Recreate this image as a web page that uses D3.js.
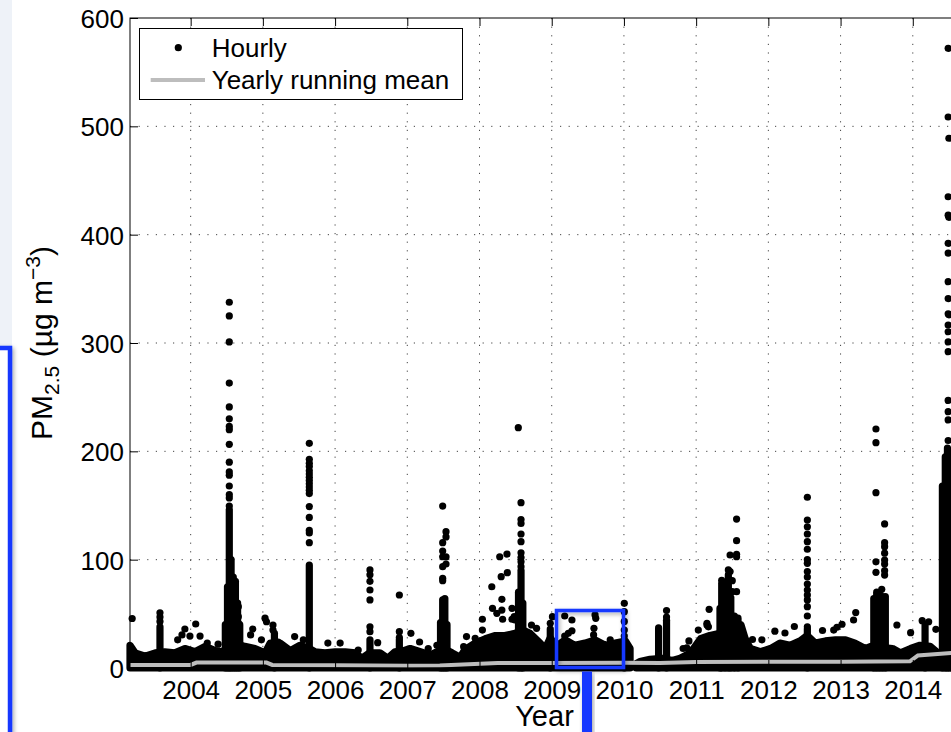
<!DOCTYPE html>
<html>
<head>
<meta charset="utf-8">
<script src="https://cdn.jsdelivr.net/npm/d3@7"></script>
<style>
  body { margin: 0; background: #fff; overflow: hidden; }
  svg { display: block; font-family: "Liberation Sans", Arial, Helvetica, sans-serif; }
  .grid line { stroke: #444; stroke-width: 1; stroke-dasharray: 1.2, 7.4; }
  .tick text { font-size: 26px; fill: #000; }
  .tick line { stroke: #000; }
</style>
</head>
<body>
<div id="chart"></div>
<script>
var years = [2004, 2005, 2006, 2007, 2008, 2009, 2010, 2011, 2012, 2013, 2014];
var yTicks = [0, 100, 200, 300, 400, 500, 600];

// top edge of the dense hourly band (null = data gap)
var bandYears = [2003.16, 2003.23, 2003.37, 2003.51, 2003.64, 2003.78, 2003.92, 2004.06, 2004.2, 2004.34,
  2004.43, 2004.5, 2004.65, 2004.75, 2004.89, 2005.03, 2005.1, 2005.24, 2005.38, 2005.51,
  2005.64, 2005.72, 2005.86, 2006.0, 2006.14, 2006.28, 2006.37, 2006.48, 2006.62, 2006.73,
  2006.83, 2006.95, 2007.04, 2007.18, 2007.32, 2007.41, 2007.5, 2007.62, 2007.73, 2007.8,
  2007.94, 2008.08, 2008.22, 2008.35, 2008.49, 2008.6, 2008.7, 2008.84, 2008.91, 2008.98,
  2009.06, 2009.19, 2009.32, 2009.46, 2009.6, 2009.74, 2009.88, 2010.02, 2010.085, 2010.12,
  2010.17, 2010.22, 2010.36, 2010.53, 2010.67, 2010.78, 2010.92, 2011.06, 2011.19, 2011.33,
  2011.45, 2011.54, 2011.62, 2011.68, 2011.75, 2011.89, 2012.03, 2012.16, 2012.3, 2012.44,
  2012.54, 2012.65, 2012.79, 2012.93, 2013.07, 2013.2, 2013.34, 2013.42, 2013.72, 2013.83,
  2013.97, 2014.1, 2014.24, 2014.33, 2014.37, 2014.4, 2014.65];
var bandTop = [21, 14, 11, 14, 15, 14, 18, 15, 20, 16,
  15, 18, 22, 20, 18, 14, 23, 23, 16, 21,
  18, 15, 14, 15, 15, 14, 9, 14, 14, 9,
  15, 16, 18, 15, 12, 15, 18, 14, 10, 17,
  23, 27, 30, 30, 32, 35, 32, 23, 18, 28,
  20, 26, 21, 23, 26, 21, 23, 25, 18, null,
  4, 6, 8, 9, 7, 9, 14, 27, 30, 32,
  33, 40, 40, 27, 18, 15, 18, 23, 21, 25,
  30, 23, 25, 26, 26, 23, 18, 20, 18, 14,
  18, 21, 20, 15, 8, 15, 15];

// dense vertical stacks of hourly points
var colYears = [2003.575, 2004.48, 2004.51, 2004.535, 2004.56, 2004.59, 2004.62, 2004.65, 2004.68, 2005.16,
  2005.643, 2006.483, 2006.89, 2007.46, 2007.49, 2007.52, 2007.55, 2008.54, 2008.575, 2008.6,
  2008.98, 2010.005, 2010.48, 2010.59, 2011.33, 2011.354, 2011.4, 2011.446, 2011.48, 2011.53,
  2011.58, 2012.54, 2013.46, 2013.5, 2013.54, 2013.58, 2013.62, 2014.17, 2014.41, 2014.45,
  2014.48, 2014.52, 2014.56, 2014.6];
var colTops = [38, 40, 75, 146, 100, 84, 80, 60, 40, 32,
  95, 26, 26, 42, 63, 64, 40, 70, 90, 60,
  36, 25, 37, 44, 55, 78, 55, 86, 65, 48,
  46, 36, 64, 70, 68, 66, 66, 40, 168, 195,
  203, 200, 190, 150];

// separate hourly points, grouped by time
var dotYears = [2003.19, 2003.575, 2003.82, 2003.88, 2003.92, 2003.99, 2004.07, 2004.13, 2004.23, 2004.38,
  2004.535, 2004.66, 2004.83, 2004.86, 2004.98, 2005.03, 2005.05, 2005.14, 2005.21, 2005.44,
  2005.56, 2005.643, 2005.9, 2006.07, 2006.32, 2006.483, 2006.59, 2006.89, 2007.05, 2007.17,
  2007.29, 2007.41, 2007.49, 2007.536, 2007.78, 2007.82, 2007.94, 2008.04, 2008.17, 2008.18,
  2008.24, 2008.28, 2008.3, 2008.31, 2008.32, 2008.38, 2008.385, 2008.45, 2008.48, 2008.49,
  2008.537, 2008.575, 2008.72, 2008.79, 2008.98, 2009.01, 2009.18, 2009.23, 2009.28, 2009.58,
  2009.585, 2009.6, 2009.61, 2009.81, 2010.005, 2010.59, 2010.82, 2010.87, 2010.9, 2011.03,
  2011.15, 2011.17, 2011.18, 2011.354, 2011.446, 2011.47, 2011.5, 2011.56, 2011.78, 2011.91,
  2012.09, 2012.23, 2012.36, 2012.54, 2012.75, 2012.905, 2012.95, 2013.02, 2013.18, 2013.21,
  2013.49, 2013.57, 2013.61, 2013.78, 2013.97, 2014.13, 2014.22, 2014.32, 2014.49, 2014.5];
var dotValues = [[45.7], [51, 47, 43], [26], [30.5], [36], [29.5], [40.6], [29.5], [23], [22],
  [337.6, 325, 301, 263, 241, 230, 223, 220, 206.5, 190, 181, 178, 168, 160, 157, 149.5],
  [56.6, 47.4, 41.2, 35], [30.5], [36], [26], [46], [42.7], [39.7, 35], [24], [29],
  [26],
  [207.4, 192.6, 189, 186, 182, 179, 176, 173, 170, 167, 164, 161, 149, 139, 127, 124.6, 115.7],
  [23], [23], [16.6], [90.5, 86, 80, 72, 62.8, 38, 33.5], [23.4], [67.4, 33.5, 28], [32], [24],
  [18], [21], [149.5, 115.7, 108, 102.7, 93.5, 82.8, 80.6], [125.8, 121, 102.5, 96], [19.7], [29], [27.4], [45, 35], [75], [55.1],
  [50.5], [102.7], [84.3], [63.4, 53.5], [45], [105.2], [88], [55.1, 45], [47.4], [44.3],
  [221.8], [152.6, 137, 133.5, 123.7, 116.6, 106.4, 102, 98, 93.5], [39.7], [36.6], [41.2], [47.4], [48, 29.5], [32], [44.3, 34.4], [30.5],
  [36.6], [49], [45.9], [26], [59.7, 52, 43, 35, 29.5], [53, 47], [18], [18.5], [25], [35],
  [41.2, 39.7], [38], [54.2], [81], [90.5], [104.3, 89], [80.6, 70.5], [137.5, 117.5, 105, 102.7, 70.5], [26.3], [26],
  [34], [32.3], [38.3],
  [157.6, 136.6, 130.4, 123.7, 116.6, 109.6, 100, 96.6, 89, 84, 77.5, 72, 67.4, 62.8, 56.6, 48, 38],
  [34.6], [35], [37.6], [40.4], [44.3], [51.2],
  [220.6, 208, 161.8, 98, 88.3], [72.6], [133, 115.7, 112, 106, 99.7, 96, 89.8, 85.8], [39.7], [32.6], [43.7], [42.7], [35.7],
  [572, 508.6, 435, 418, 392, 383, 356.6, 341, 327, 316.6, 310.4, 301, 292, 247, 236.6, 229, 210],
  [489, 416, 326]];

var meanYears = [2003.16, 2004.0, 2004.08, 2005.05, 2005.13, 2006.0, 2007.0, 2007.45, 2008.25, 2009.0,
  2010.0, 2010.5, 2011.0, 2012.0, 2013.0, 2013.96, 2014.07, 2014.65];
var meanValues = [2.8, 2.8, 5, 5, 2.8, 2.5, 2.0, 2.3, 4.6, 4.6,
  4.8, 4.6, 5.5, 5.8, 5.8, 6.2, 11.5, 14.5];

var w = 951;
var h = 732;
var padL = 130, padR = 959, padT = 18, padB = 668;
var rad = 3.6;
var blue = "#1437ff";

var svg = d3
  .select("#chart")
  .append("svg")
  .attr("width", w)
  .attr("height", h);

var defs = svg.append("defs");
defs
  .append("filter")
  .attr("id", "shadow")
  .attr("x", "-30%")
  .attr("y", "-30%")
  .attr("width", "160%")
  .attr("height", "160%")
  .append("feDropShadow")
  .attr("dx", 1.5)
  .attr("dy", 2)
  .attr("stdDeviation", 2)
  .attr("flood-color", "#000")
  .attr("flood-opacity", 0.35);

var x = d3.scaleLinear().domain([2003.16, 2014.64]).range([padL, padR]);
var y = d3.scaleLinear().domain([0, 600]).range([padB, padT]);

// grid
var grid = svg.append("g").attr("class", "grid");
grid
  .selectAll(".vg")
  .data(years)
  .enter()
  .append("line")
  .attr("x1", (d) => x(d))
  .attr("x2", (d) => x(d))
  .attr("y1", padT)
  .attr("y2", padB);
grid
  .selectAll(".hg")
  .data(yTicks.slice(1, -1))
  .enter()
  .append("line")
  .attr("x1", padL)
  .attr("x2", padR)
  .attr("y1", (d) => y(d))
  .attr("y2", (d) => y(d));

// hourly data
var bandData = bandYears.map((d, i) => [d, bandTop[i]]);
var area = d3
  .area()
  .defined((d) => d[1] != null)
  .x((d) => x(d[0]))
  .y0(y(0))
  .y1((d) => y(d[1]));
svg
  .append("path")
  .attr("d", area(bandData))
  .attr("fill", "#000")
  .attr("stroke", "#000")
  .attr("stroke-width", rad * 2)
  .attr("stroke-linejoin", "round");

svg
  .append("g")
  .selectAll("line")
  .data(colYears)
  .enter()
  .append("line")
  .attr("x1", (d) => x(d))
  .attr("x2", (d) => x(d))
  .attr("y1", y(0))
  .attr("y2", (d, i) => y(colTops[i]))
  .attr("stroke", "#000")
  .attr("stroke-width", rad * 2)
  .attr("stroke-linecap", "round");

var dots = [];
dotYears.forEach((yr, i) => {
  dotValues[i].forEach((v) => dots.push([yr, v]));
});
svg
  .append("g")
  .selectAll("circle")
  .data(dots)
  .enter()
  .append("circle")
  .attr("cx", (d) => x(d[0]))
  .attr("cy", (d) => y(d[1]))
  .attr("r", rad)
  .attr("fill", "#000");

// yearly running mean
var line = d3
  .line()
  .x((d) => x(d[0]))
  .y((d) => y(d[1]));
svg
  .append("path")
  .attr("d", line(meanYears.map((d, i) => [d, meanValues[i]])))
  .attr("fill", "none")
  .attr("stroke", "#bdbdbd")
  .attr("stroke-width", 4);

// axes box
svg
  .append("rect")
  .attr("x", padL)
  .attr("y", padT)
  .attr("width", padR - padL)
  .attr("height", padB - padT)
  .attr("fill", "none")
  .attr("stroke", "#000")
  .attr("stroke-width", 1);

var yAxis = svg
  .append("g")
  .attr("transform", "translate(" + padL + ",0)")
  .call(d3.axisLeft(y).tickValues(yTicks).tickSize(-8).tickPadding(6).tickFormat(d3.format("d")));
yAxis.selectAll("text").attr("dy", "0.36em");

var xAxis = svg
  .append("g")
  .attr("transform", "translate(0," + padB + ")")
  .call(d3.axisBottom(x).tickValues(years).tickSize(-8).tickPadding(12.5).tickFormat(d3.format("d")));

var xTop = svg
  .append("g")
  .attr("transform", "translate(0," + padT + ")")
  .call(d3.axisTop(x).tickValues(years).tickSize(-8).tickFormat(""));

svg.selectAll(".domain").remove();

// labels
svg
  .append("text")
  .attr("x", (padL + padR) / 2)
  .attr("y", 726)
  .attr("text-anchor", "middle")
  .style("font-size", "29px")
  .text("Year");

var yl = svg
  .append("text")
  .attr("transform", "translate(52," + (padT + padB) / 2 + ") rotate(-90)")
  .attr("text-anchor", "middle")
  .style("font-size", "30px");
yl.append("tspan").text("PM");
yl.append("tspan").attr("dy", 7).style("font-size", "21px").text("2.5");
yl.append("tspan").attr("dy", -7).text(" (\u00b5g m");
yl.append("tspan").attr("dy", -12).style("font-size", "21px").text("\u22123");
yl.append("tspan").attr("dy", 12).text(")");

// legend
var legend = svg.append("g");
legend
  .append("rect")
  .attr("x", 139.5)
  .attr("y", 28.5)
  .attr("width", 323)
  .attr("height", 71)
  .attr("fill", "#fff")
  .attr("stroke", "#000")
  .attr("stroke-width", 1);
legend
  .append("circle")
  .attr("cx", 178.3)
  .attr("cy", 47.7)
  .attr("r", rad)
  .attr("fill", "#000");
legend
  .append("line")
  .attr("x1", 150.7)
  .attr("x2", 205)
  .attr("y1", 80)
  .attr("y2", 80)
  .attr("stroke", "#bdbdbd")
  .attr("stroke-width", 4);
legend
  .append("text")
  .attr("x", 211.7)
  .attr("y", 57.3)
  .style("font-size", "26px")
  .text("Hourly");
legend
  .append("text")
  .attr("x", 211.7)
  .attr("y", 89.3)
  .style("font-size", "26px")
  .text("Yearly running mean");

// blue annotation marks
svg
  .append("rect")
  .attr("x", 0)
  .attr("y", 0)
  .attr("width", 12)
  .attr("height", 346)
  .attr("fill", "#eef2f8");
svg
  .append("rect")
  .attr("x", -40)
  .attr("y", 348)
  .attr("width", 50)
  .attr("height", 500)
  .attr("fill", "#fff")
  .attr("stroke", blue)
  .attr("stroke-width", 4.5)
  .attr("filter", "url(#shadow)");
svg
  .append("rect")
  .attr("x", 556.5)
  .attr("y", 610.5)
  .attr("width", 67)
  .attr("height", 57)
  .attr("fill", "none")
  .attr("stroke", blue)
  .attr("stroke-width", 3.5)
  .attr("filter", "url(#shadow)");
svg
  .append("rect")
  .attr("x", 582)
  .attr("y", 671.5)
  .attr("width", 10)
  .attr("height", 80)
  .attr("fill", blue)
  .attr("filter", "url(#shadow)");
</script>
</body>
</html>
